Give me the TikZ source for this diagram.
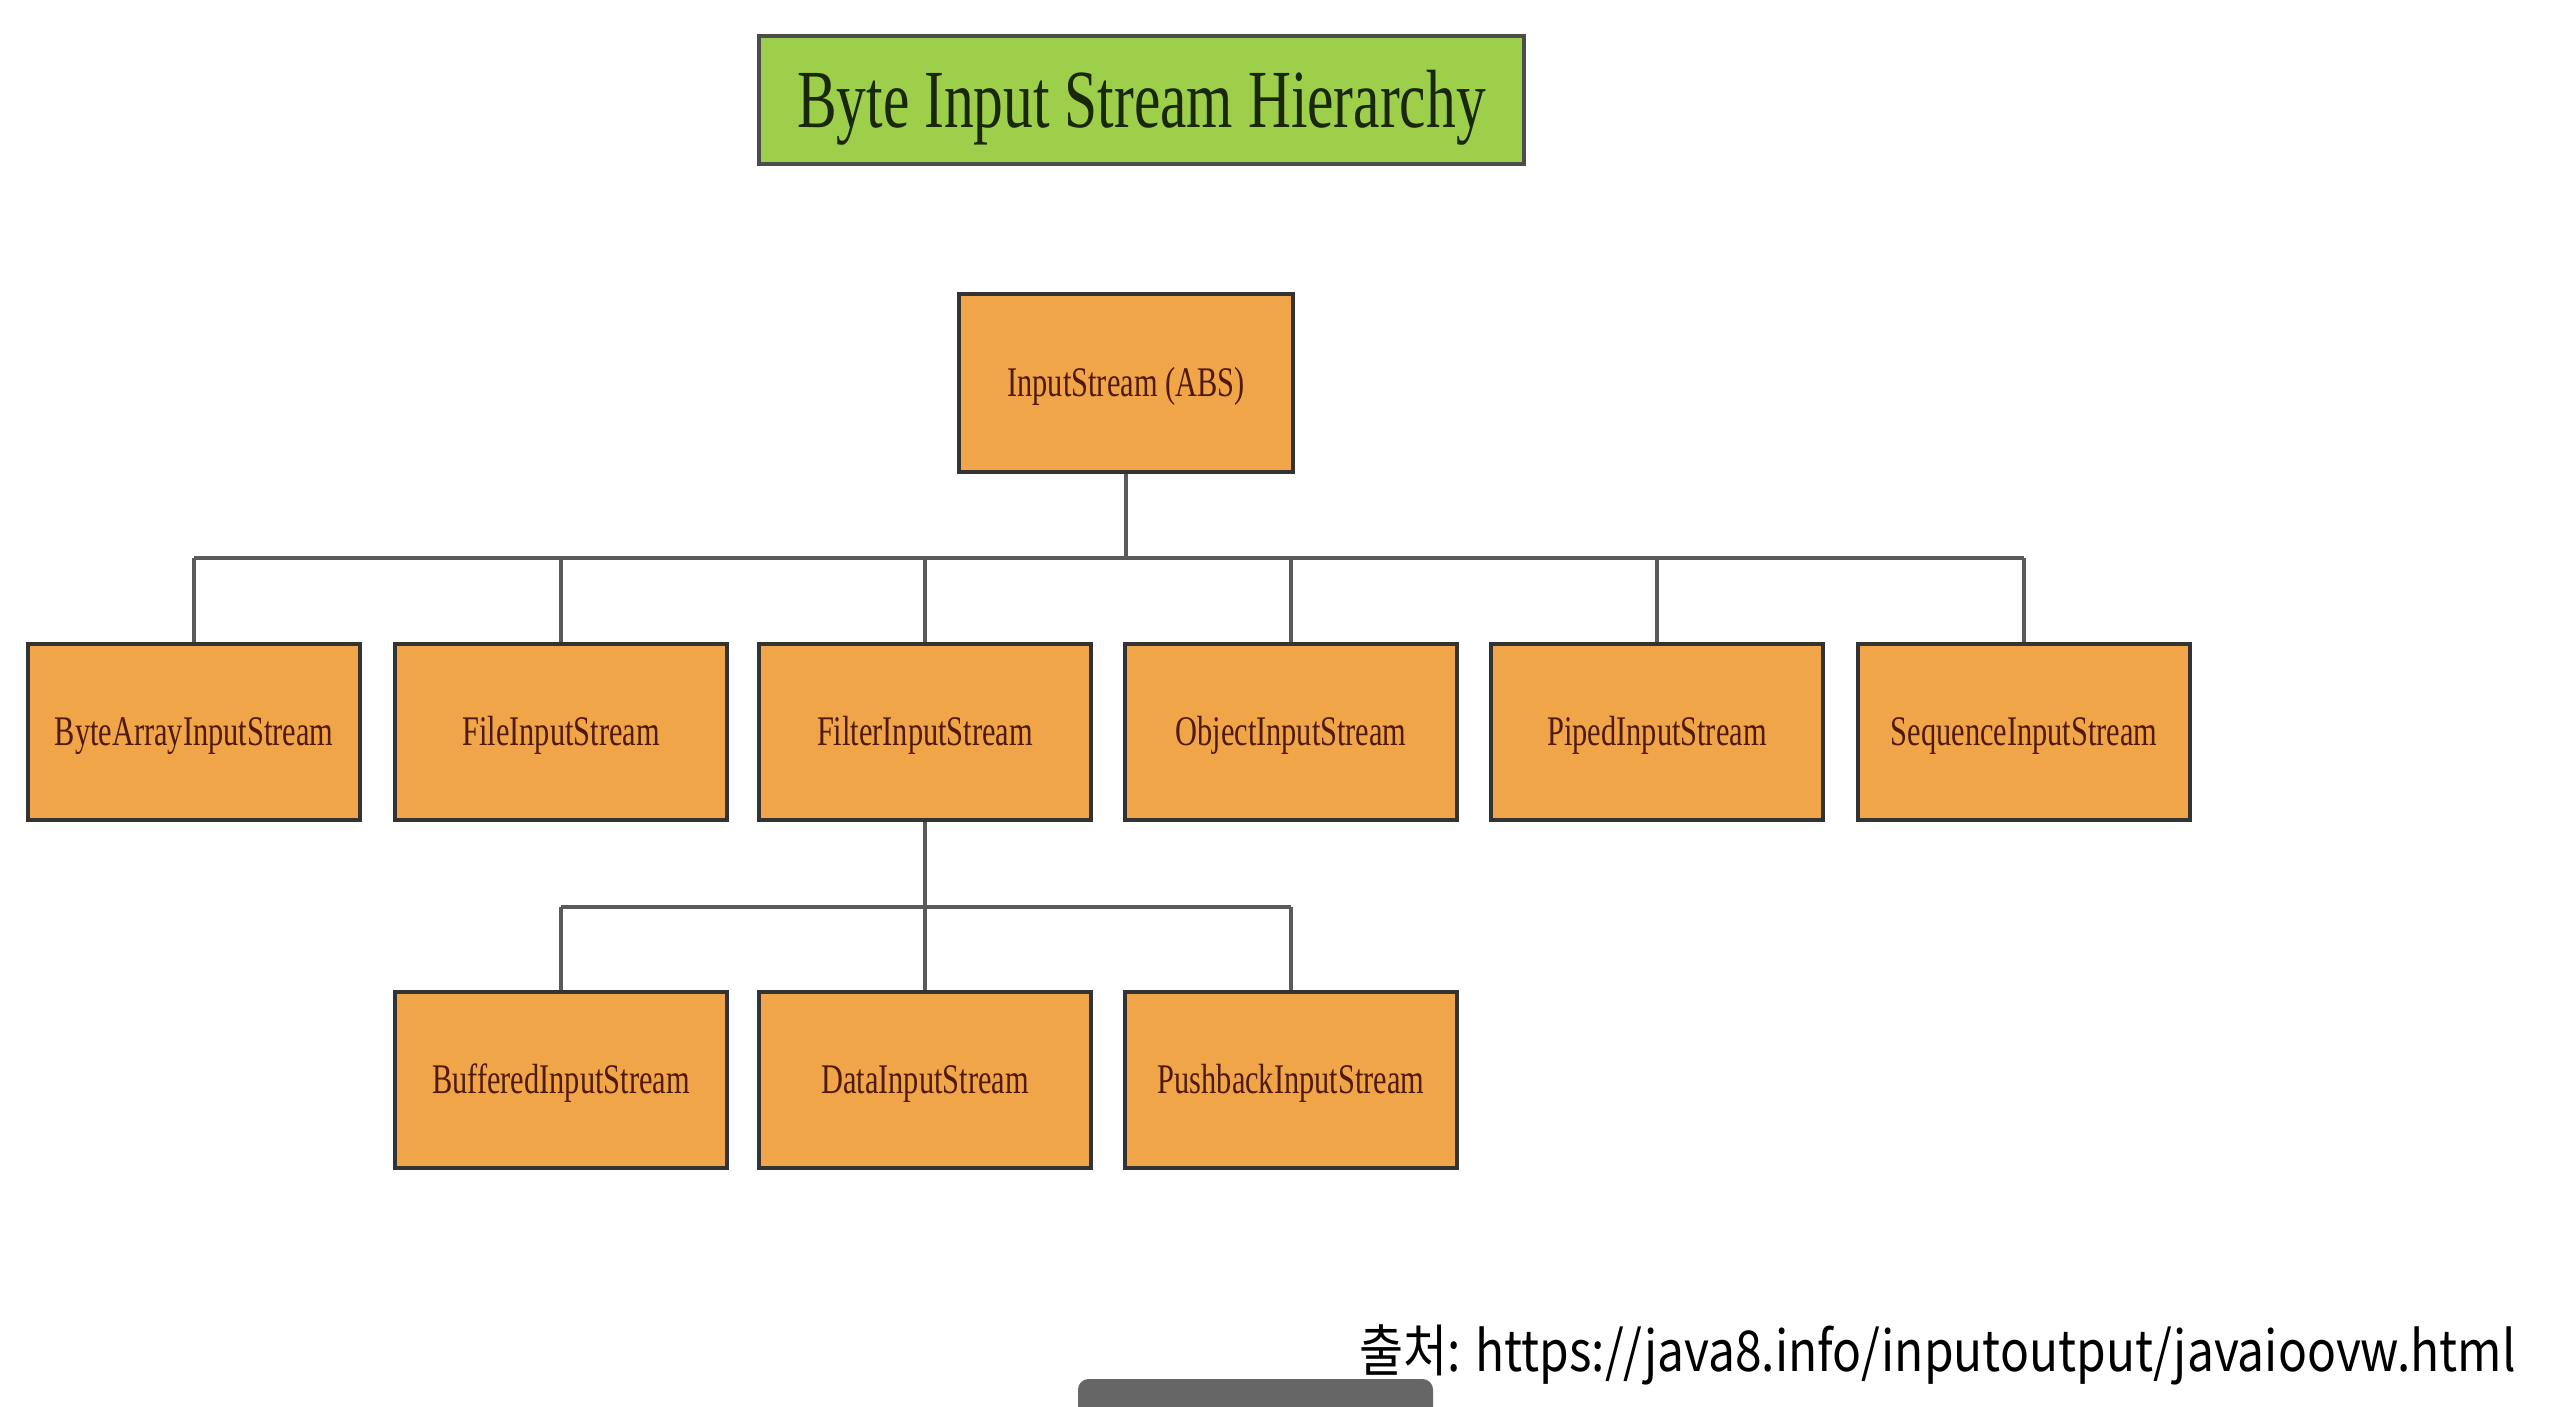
\documentclass[tikz,border=0pt]{standalone}
\usepackage{fontspec}
\usepackage{xcolor}
\usetikzlibrary{positioning, calc}
\newfontfamily\boxfont[FakeStretch=0.72]{Liberation Serif}
\newfontfamily\krfont[FakeStretch=0.852]{Noto Sans CJK KR}
\definecolor{titlegreen}{RGB}{157,207,75}
\definecolor{boxorange}{RGB}{240,165,72}
\definecolor{boxtext}{RGB}{80,25,10}
\definecolor{linegray}{RGB}{90,90,90}
\tikzset{
  cls/.style={draw=black!80, line width=1pt, fill=boxorange, text=boxtext, font=\boxfont\fontsize{12}{14}\selectfont, minimum width=3.32cm, minimum height=1.76cm, inner sep=0pt, text height=7.9pt, text depth=0pt},
  link/.style={draw=linegray, line width=0.9pt}
}

\begin{document}
\begin{tikzpicture}
\useasboundingbox (0,0) rectangle (25.5,-14.06);
\clip (0,0) rectangle (25.5,-14.06);
% Title
\node[draw=black!70, line width=1.2pt, fill=titlegreen, text={rgb,255:red,25;green,40;blue,10}, font=\boxfont\fontsize{23.5}{26}\selectfont, minimum width=7.65cm, minimum height=1.28cm, inner sep=0pt, text height=15.6pt, text depth=0pt] (title) at (11.415,-1.00) {Byte Input Stream Hierarchy};
% Root class
\node[cls, minimum width=3.34cm, minimum height=1.78cm] (inputstream) at (11.26,-3.83) {InputStream (ABS)};
% First level
\node[cls] (bytearray) at (1.94,-7.32) {ByteArrayInputStream};
\node[cls] (file) at (5.61,-7.32) {FileInputStream};
\node[cls] (filter) at (9.25,-7.32) {FilterInputStream};
\node[cls] (object) at (12.91,-7.32) {ObjectInputStream};
\node[cls] (piped) at (16.57,-7.32) {PipedInputStream};
\node[cls] (sequence) at (20.24,-7.32) {SequenceInputStream};
% Second level
\node[cls] (buffered) at (5.61,-10.80) {BufferedInputStream};
\node[cls] (data) at (9.25,-10.80) {DataInputStream};
\node[cls] (pushback) at (12.91,-10.80) {PushbackInputStream};
% Connectors
\coordinate (bus1) at (0,-5.58);
\coordinate (bus2) at (0,-9.07);
\draw[link] (inputstream.south) -- (inputstream.south |- bus1);
\draw[link] (bytearray.north |- bus1) -- (sequence.north |- bus1);
\foreach \c in {bytearray,file,filter,object,piped,sequence}
  \draw[link] (\c.north) -- (\c.north |- bus1);
\draw[link] (filter.south) -- (filter.south |- bus2);
\draw[link] (buffered.north |- bus2) -- (pushback.north |- bus2);
\foreach \c in {buffered,data,pushback}
  \draw[link] (\c.north) -- (\c.north |- bus2);
% Source
\node[anchor=base west, inner sep=0pt, font=\krfont\fontsize{16}{18}\selectfont] (source) at (13.59,-13.71) {출처: https://java8.info/inputoutput/javaioovw.html};
% Viewer toolbar
\fill[black!60, rounded corners=3pt] (10.78,-13.79) rectangle (14.33,-14.3);
\end{tikzpicture}
\end{document}
